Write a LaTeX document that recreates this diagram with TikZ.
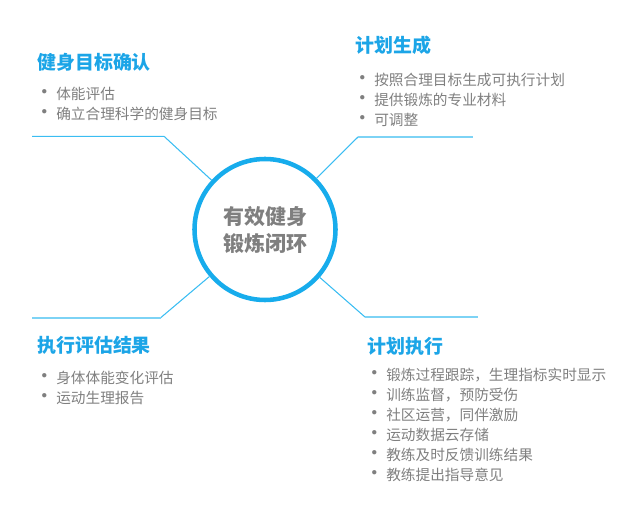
\documentclass[tikz,border=0pt]{standalone}
\usepackage{fontspec}
\setmainfont{Noto Sans CJK SC}
\usetikzlibrary{calc}
\definecolor{ringblue}{HTML}{17ACEC}
\definecolor{headblue}{HTML}{1CA5E7}
\definecolor{lineblue}{HTML}{3BBDF2}
\definecolor{paleblue}{HTML}{7DD3F5}
\definecolor{txtgray}{HTML}{7F7F7F}
\newcommand\bul[1]{\makebox[14.25pt][l]{\hspace{-2.2pt}\raisebox{-0.4pt}{\scalebox{1.4}{•}}}#1}

\begin{document}
\begin{tikzpicture}[x=0.75pt, y=-0.75pt,
    hubring/.style={circle, draw=ringblue, line width=3.4pt, minimum size=105.75pt,
        inner sep=0pt, text=txtgray, align=center,
        font=\fontsize{15.75}{20.25}\selectfont\bfseries},
    heading/.style={anchor=west, inner sep=0pt, text=headblue,
        font=\fontsize{14.2}{16}\selectfont\bfseries},
    bullets/.style={anchor=north west, inner sep=0pt, text=txtgray, align=left,
        font=\fontsize{11}{15}\selectfont},
    spoke/.style={draw=lineblue, line width=0.8pt},
    ledge/.style={draw=paleblue, line width=1.5pt}]
    \useasboundingbox (0,0) rectangle (630,505);

    % centre ring
    \node[hubring] (hub) at (265,229.5) {有效健身\\锻炼闭环};

    % spokes with their ledges
    \coordinate (tlEnd)  at (32,136.3);
    \coordinate (tlBend) at (164,136.3);
    \coordinate (trBend) at (358,137);
    \coordinate (trEnd)  at (473,137);
    \coordinate (blEnd)  at (32,317.7);
    \coordinate (blBend) at (160.7,317.7);
    \coordinate (brBend) at (365,317);
    \coordinate (brEnd)  at (478,317);

    \draw[spoke] (tlEnd) -- (tlBend) -- (hub);
    \draw[spoke] (trBend) -- (hub);
    \draw[ledge] (trBend) -- (trEnd);
    \draw[spoke] (blBend) -- (hub);
    \draw[ledge] (blEnd) -- (blBend);
    \draw[spoke] (brBend) -- (hub);
    \draw[ledge] (brBend) -- (brEnd);

    % goal setting
    \node[heading] (goalHead) at (37,62) {健身目标确认};
    \node[bullets] (goalList) at (37,86.4)
        {\bul{体能评估}\\\bul{确立合理科学的健身目标}};

    % plan generation
    \node[heading] (planHead) at (355,45) {计划生成};
    \node[bullets] (planList) at (355,72.4)
        {\bul{按照合理目标生成可执行计划}\\\bul{提供锻炼的专业材料}\\\bul{可调整}};

    % evaluation
    \node[heading] (evalHead) at (37,345) {执行评估结果};
    \node[bullets] (evalList) at (37,370.4)
        {\bul{身体体能变化评估}\\\bul{运动生理报告}};

    % execution
    \node[heading] (execHead) at (367,346) {计划执行};
    \node[bullets] (execList) at (367,367.4)
        {\bul{锻炼过程跟踪，生理指标实时显示}\\\bul{训练监督，预防受伤}\\
         \bul{社区运营，同伴激励}\\\bul{运动数据云存储}\\
         \bul{教练及时反馈训练结果}\\\bul{教练提出指导意见}};
\end{tikzpicture}
\end{document}
